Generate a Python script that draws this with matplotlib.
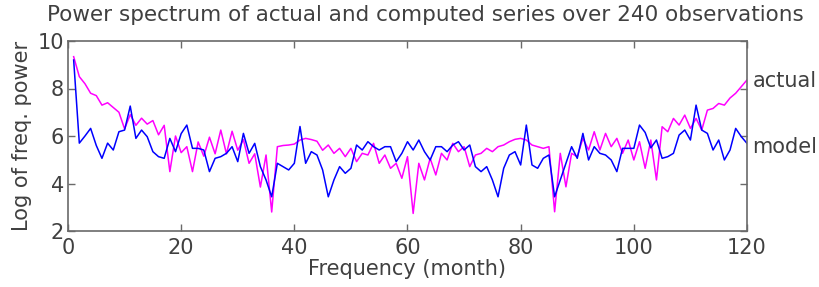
import matplotlib
matplotlib.use("Agg")
import matplotlib.pyplot as plt
import numpy as np

freq = np.arange(1, 121)

actual = [9.34, 8.5, 8.2, 7.8, 7.7, 7.3, 7.4, 7.2, 7.0, 6.3,
          6.9, 6.45, 6.75, 6.5, 6.65, 6.05, 6.45, 4.5, 6.0, 5.3,
          5.55, 4.5, 5.75, 5.15, 5.95, 5.25, 6.25, 5.25, 6.2, 5.4,
          5.85, 4.85, 5.25, 3.85, 5.2, 2.8, 5.55, 5.6, 5.62, 5.66,
          5.83, 5.9, 5.85, 5.78, 5.4, 5.62, 5.27, 5.48, 5.13, 5.48,
          4.92, 5.27, 5.2, 5.69, 4.85, 5.2, 4.64, 4.85, 4.22, 5.13,
          2.74, 4.85, 4.15, 5.06, 4.36, 5.27, 4.99, 5.69, 5.34, 5.55,
          4.71, 5.2, 5.27, 5.48, 5.34, 5.55, 5.62, 5.76, 5.86, 5.9,
          5.83, 5.62, 5.55, 5.48, 5.55, 2.81, 5.27, 3.86, 5.27, 5.13,
          5.9, 5.41, 6.18, 5.41, 6.11, 5.55, 5.9, 5.27, 5.83, 4.99,
          5.76, 4.64, 5.83, 4.15, 6.39, 6.18, 6.74, 6.46, 6.88, 6.32,
          6.74, 6.25, 7.09, 7.16, 7.37, 7.3, 7.6, 7.8, 8.08, 8.36]

model = [9.2, 5.7, 6.0, 6.32, 5.6, 5.06, 5.7, 5.41, 6.18, 6.25,
         7.26, 5.9, 6.25, 5.97, 5.34, 5.13, 5.06, 5.9, 5.34, 6.1,
         6.46, 5.48, 5.48, 5.41, 4.5, 5.06, 5.13, 5.27, 5.55, 4.92,
         6.11, 5.27, 5.69, 4.71, 4.15, 3.44, 4.85, 4.71, 4.57, 4.85,
         6.4, 4.85, 5.34, 5.2, 4.57, 3.44, 4.15, 4.71, 4.43, 4.64,
         5.62, 5.41, 5.76, 5.55, 5.41, 5.55, 5.55, 4.92, 5.27, 5.76,
         5.41, 5.83, 5.34, 4.99, 5.55, 5.55, 5.34, 5.62, 5.76, 5.41,
         5.62, 4.71, 4.5, 4.71, 4.15, 3.44, 4.64, 5.2, 5.34, 4.78,
         6.46, 4.78, 4.64, 5.06, 5.2, 3.44, 4.15, 4.85, 5.55, 5.06,
         6.11, 4.99, 5.55, 5.27, 5.2, 4.99, 4.5, 5.48, 5.48, 5.48,
         6.46, 6.15, 5.5, 5.83, 5.06, 5.13, 5.27, 6.04, 6.25, 5.83,
         7.3, 6.25, 6.11, 5.41, 5.83, 4.99, 5.41, 6.32, 5.97, 5.69]

xticks = [0, 20, 40, 60, 80, 100, 120]
yticks = [2, 4, 6, 8, 10]

plt.rcParams['font.family'] = ['DejaVu Sans']
txt = '#404040'
edge = '#6a6a6a'

fig = plt.figure(figsize=(8.2, 2.87), dpi=100)
ax = fig.add_axes([68/820, 1-231/287, (747-68)/820, (231-41)/287])

ax.plot(freq, actual, color='#ff00ff', lw=1.1)
ax.plot(freq, model, color='#0000ff', lw=1.1)

ax.set_xlim(0, 120)
ax.set_ylim(2, 10)
ax.set_xticks(xticks)
ax.set_yticks(yticks)
ax.tick_params(direction='in', top=True, right=True, length=5, width=1,
               color=edge, labelcolor=txt, labelsize=15)
ax.tick_params(axis='x', pad=5)
ax.tick_params(axis='y', pad=3)
for s in ax.spines.values():
    s.set_color(edge)
    s.set_linewidth(1.2)

ax.set_xlabel('Frequency (month)', fontsize=15, color=txt, labelpad=1)
ax.set_ylabel('Log of freq. power', fontsize=15, color=txt, labelpad=4)
fig.text(425/820, 1-15/287, 'Power spectrum of actual and computed series over 240 observations',
         ha='center', va='center', fontsize=15.5, color=txt)

ax.text(1.008, 8.3, 'actual', transform=ax.get_yaxis_transform(),
        ha='left', va='center', fontsize=15, color=txt)
ax.text(1.008, 5.55, 'model', transform=ax.get_yaxis_transform(),
        ha='left', va='center', fontsize=15, color=txt)

fig.savefig('out.png', dpi=100)
